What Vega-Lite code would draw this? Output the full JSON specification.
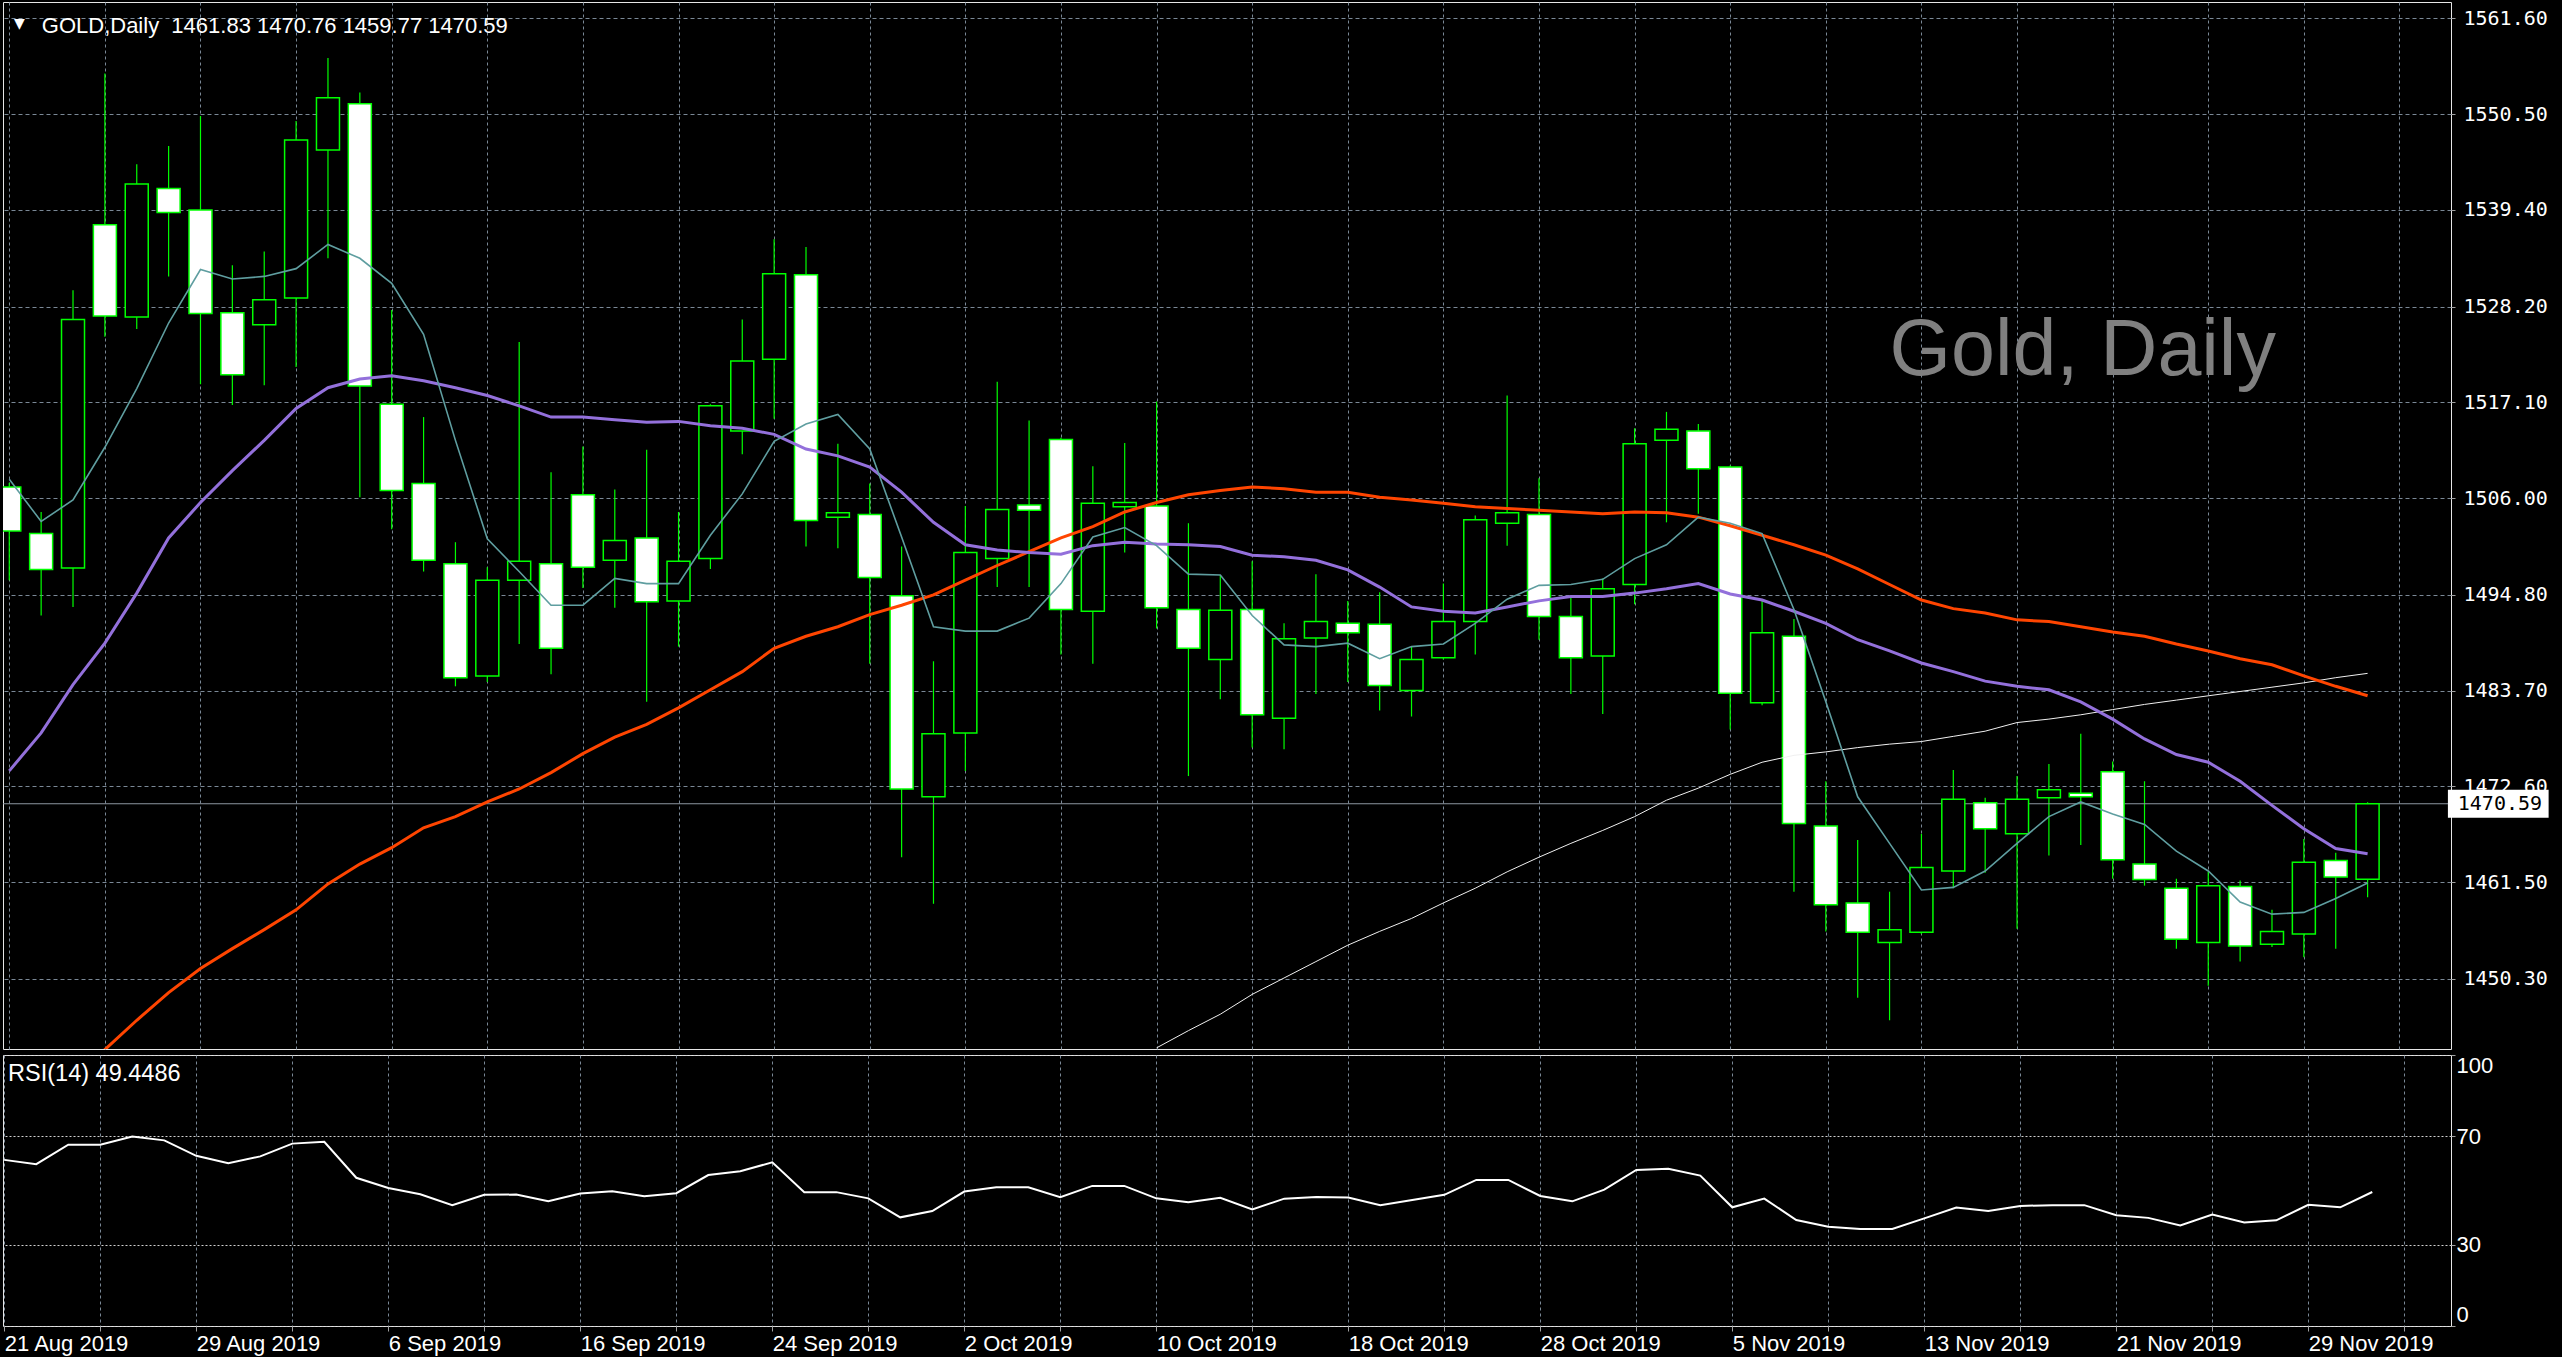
{
"$schema": "https://vega.github.io/schema/vega-lite/v6.json",
"background": "#000000",
"padding": {"left": 2, "top": 1, "right": 12, "bottom": 2},
"spacing": 3,
"datasets": {
"ohlc": [
{"i":0,"date":"2019-08-21","open":1507.3,"high":1507.8,"low":1496.5,"close":1502.2,"maFast":1508.2,"maMid":1474.4,"maSlow":null,"maLong":null,"rsi":61.3},
{"i":1,"date":"2019-08-22","open":1501.9,"high":1504.4,"low":1492.4,"close":1497.75,"maFast":1503.3,"maMid":1478.8,"maSlow":null,"maLong":null,"rsi":59.7},
{"i":2,"date":"2019-08-23","open":1497.9,"high":1530.1,"low":1493.4,"close":1526.7,"maFast":1505.8,"maMid":1484.4,"maSlow":1438.6,"maLong":null,"rsi":66.9},
{"i":3,"date":"2019-08-26","open":1537.7,"high":1555.2,"low":1524.7,"close":1527.1,"maFast":1511.9,"maMid":1489.2,"maSlow":1442.1,"maLong":null,"rsi":66.9},
{"i":4,"date":"2019-08-27","open":1527.0,"high":1544.7,"low":1525.6,"close":1542.4,"maFast":1518.7,"maMid":1495.0,"maSlow":1445.5,"maLong":null,"rsi":69.9},
{"i":5,"date":"2019-08-28","open":1541.9,"high":1546.8,"low":1531.7,"close":1539.1,"maFast":1526.3,"maMid":1501.4,"maSlow":1448.7,"maLong":null,"rsi":68.5},
{"i":6,"date":"2019-08-29","open":1539.4,"high":1550.3,"low":1519.2,"close":1527.4,"maFast":1532.5,"maMid":1505.5,"maSlow":1451.5,"maLong":null,"rsi":62.8},
{"i":7,"date":"2019-08-30","open":1527.5,"high":1533.0,"low":1516.8,"close":1520.3,"maFast":1531.4,"maMid":1509.2,"maSlow":1453.8,"maLong":null,"rsi":60.1},
{"i":8,"date":"2019-09-02","open":1526.1,"high":1534.6,"low":1519.1,"close":1529.0,"maFast":1531.7,"maMid":1512.7,"maSlow":1456.0,"maLong":null,"rsi":62.6},
{"i":9,"date":"2019-09-03","open":1529.2,"high":1549.7,"low":1521.2,"close":1547.5,"maFast":1532.6,"maMid":1516.4,"maSlow":1458.3,"maLong":null,"rsi":67.3},
{"i":10,"date":"2019-09-04","open":1546.35,"high":1557.0,"low":1533.8,"close":1552.4,"maFast":1535.4,"maMid":1518.8,"maSlow":1461.3,"maLong":null,"rsi":68.0},
{"i":11,"date":"2019-09-05","open":1551.7,"high":1553.0,"low":1506.1,"close":1519.0,"maFast":1533.8,"maMid":1519.8,"maSlow":1463.6,"maLong":null,"rsi":54.7},
{"i":12,"date":"2019-09-06","open":1516.9,"high":1527.8,"low":1502.4,"close":1506.9,"maFast":1530.9,"maMid":1520.2,"maSlow":1465.5,"maLong":null,"rsi":50.9},
{"i":13,"date":"2019-09-09","open":1507.7,"high":1515.4,"low":1497.5,"close":1498.8,"maFast":1525.0,"maMid":1519.6,"maSlow":1467.8,"maLong":null,"rsi":48.6},
{"i":14,"date":"2019-09-10","open":1498.4,"high":1500.9,"low":1484.2,"close":1485.2,"maFast":1512.7,"maMid":1518.8,"maSlow":1469.1,"maLong":null,"rsi":44.6},
{"i":15,"date":"2019-09-11","open":1485.4,"high":1498.0,"low":1484.7,"close":1496.5,"maFast":1501.3,"maMid":1517.9,"maSlow":1470.8,"maLong":null,"rsi":48.4},
{"i":16,"date":"2019-09-12","open":1496.5,"high":1524.1,"low":1489.1,"close":1498.7,"maFast":1497.5,"maMid":1516.7,"maSlow":1472.3,"maLong":null,"rsi":48.5},
{"i":17,"date":"2019-09-13","open":1498.4,"high":1509.0,"low":1485.6,"close":1488.6,"maFast":1493.6,"maMid":1515.4,"maSlow":1474.2,"maLong":null,"rsi":46.0},
{"i":18,"date":"2019-09-16","open":1506.4,"high":1512.0,"low":1495.6,"close":1498.0,"maFast":1493.6,"maMid":1515.4,"maSlow":1476.4,"maLong":null,"rsi":48.9},
{"i":19,"date":"2019-09-17","open":1498.8,"high":1507.0,"low":1493.3,"close":1501.1,"maFast":1496.7,"maMid":1515.1,"maSlow":1478.3,"maLong":null,"rsi":49.7},
{"i":20,"date":"2019-09-18","open":1501.4,"high":1511.6,"low":1482.4,"close":1494.0,"maFast":1496.1,"maMid":1514.8,"maSlow":1479.8,"maLong":null,"rsi":47.9},
{"i":21,"date":"2019-09-19","open":1494.1,"high":1504.4,"low":1488.8,"close":1498.7,"maFast":1496.1,"maMid":1514.9,"maSlow":1481.7,"maLong":null,"rsi":49.0},
{"i":22,"date":"2019-09-20","open":1499.0,"high":1516.9,"low":1497.8,"close":1516.7,"maFast":1501.7,"maMid":1514.4,"maSlow":1483.8,"maLong":null,"rsi":55.7},
{"i":23,"date":"2019-09-23","open":1513.8,"high":1526.7,"low":1511.1,"close":1521.9,"maFast":1506.5,"maMid":1514.1,"maSlow":1485.9,"maLong":null,"rsi":57.1},
{"i":24,"date":"2019-09-24","open":1522.1,"high":1536.0,"low":1515.2,"close":1532.0,"maFast":1512.6,"maMid":1513.4,"maSlow":1488.6,"maLong":null,"rsi":60.4},
{"i":25,"date":"2019-09-25","open":1531.9,"high":1535.1,"low":1500.4,"close":1503.4,"maFast":1514.6,"maMid":1511.7,"maSlow":1490.0,"maLong":null,"rsi":49.4},
{"i":26,"date":"2019-09-26","open":1503.8,"high":1512.3,"low":1500.2,"close":1504.3,"maFast":1515.7,"maMid":1510.9,"maSlow":1491.1,"maLong":null,"rsi":49.4},
{"i":27,"date":"2019-09-27","open":1504.1,"high":1507.7,"low":1486.8,"close":1496.8,"maFast":1511.7,"maMid":1509.6,"maSlow":1492.5,"maLong":null,"rsi":47.1},
{"i":28,"date":"2019-09-30","open":1494.7,"high":1500.4,"low":1464.4,"close":1472.3,"maFast":1501.5,"maMid":1506.7,"maSlow":1493.6,"maLong":null,"rsi":40.1},
{"i":29,"date":"2019-10-01","open":1471.4,"high":1487.1,"low":1459.0,"close":1478.7,"maFast":1491.1,"maMid":1503.2,"maSlow":1494.8,"maLong":null,"rsi":42.4},
{"i":30,"date":"2019-10-02","open":1478.8,"high":1505.1,"low":1474.4,"close":1499.7,"maFast":1490.6,"maMid":1500.6,"maSlow":1496.5,"maLong":null,"rsi":49.6},
{"i":31,"date":"2019-10-03","open":1499.0,"high":1519.5,"low":1495.7,"close":1504.7,"maFast":1490.6,"maMid":1500.0,"maSlow":1498.2,"maLong":null,"rsi":51.2},
{"i":32,"date":"2019-10-04","open":1505.2,"high":1515.0,"low":1495.7,"close":1504.6,"maFast":1492.1,"maMid":1499.7,"maSlow":1499.8,"maLong":null,"rsi":51.2},
{"i":33,"date":"2019-10-07","open":1512.8,"high":1513.0,"low":1487.9,"close":1493.1,"maFast":1496.1,"maMid":1499.5,"maSlow":1501.4,"maLong":null,"rsi":47.5},
{"i":34,"date":"2019-10-08","open":1492.9,"high":1509.7,"low":1486.8,"close":1505.4,"maFast":1501.5,"maMid":1500.5,"maSlow":1502.7,"maLong":null,"rsi":51.7},
{"i":35,"date":"2019-10-09","open":1505.0,"high":1512.4,"low":1499.7,"close":1505.5,"maFast":1502.6,"maMid":1500.9,"maSlow":1504.4,"maLong":null,"rsi":51.7},
{"i":36,"date":"2019-10-10","open":1505.1,"high":1517.2,"low":1490.9,"close":1493.3,"maFast":1500.5,"maMid":1500.7,"maSlow":1505.5,"maLong":1442.3,"rsi":47.1},
{"i":37,"date":"2019-10-11","open":1493.1,"high":1503.1,"low":1473.8,"close":1488.6,"maFast":1497.2,"maMid":1500.6,"maSlow":1506.4,"maLong":1444.3,"rsi":45.7},
{"i":38,"date":"2019-10-14","open":1487.3,"high":1497.1,"low":1482.7,"close":1493.0,"maFast":1497.1,"maMid":1500.4,"maSlow":1506.9,"maLong":1446.2,"rsi":47.3},
{"i":39,"date":"2019-10-15","open":1493.1,"high":1498.7,"low":1477.1,"close":1480.9,"maFast":1492.4,"maMid":1499.4,"maSlow":1507.3,"maLong":1448.5,"rsi":43.0},
{"i":40,"date":"2019-10-16","open":1480.5,"high":1491.5,"low":1476.9,"close":1489.7,"maFast":1489.0,"maMid":1499.2,"maSlow":1507.1,"maLong":1450.4,"rsi":47.0},
{"i":41,"date":"2019-10-17","open":1489.8,"high":1497.2,"low":1483.3,"close":1491.7,"maFast":1488.8,"maMid":1498.8,"maSlow":1506.7,"maLong":1452.3,"rsi":47.6},
{"i":42,"date":"2019-10-18","open":1491.5,"high":1494.1,"low":1484.7,"close":1490.4,"maFast":1489.2,"maMid":1497.7,"maSlow":1506.7,"maLong":1454.2,"rsi":47.4},
{"i":43,"date":"2019-10-21","open":1491.4,"high":1495.1,"low":1481.4,"close":1484.3,"maFast":1487.4,"maMid":1495.7,"maSlow":1506.1,"maLong":1455.8,"rsi":44.6},
{"i":44,"date":"2019-10-22","open":1483.7,"high":1488.8,"low":1480.7,"close":1487.3,"maFast":1488.8,"maMid":1493.4,"maSlow":1505.8,"maLong":1457.3,"rsi":46.5},
{"i":45,"date":"2019-10-23","open":1487.5,"high":1496.1,"low":1487.3,"close":1491.7,"maFast":1489.1,"maMid":1492.9,"maSlow":1505.4,"maLong":1459.1,"rsi":48.4},
{"i":46,"date":"2019-10-24","open":1491.7,"high":1504.0,"low":1487.9,"close":1503.5,"maFast":1491.5,"maMid":1492.7,"maSlow":1505.0,"maLong":1460.8,"rsi":53.9},
{"i":47,"date":"2019-10-25","open":1503.1,"high":1517.9,"low":1500.5,"close":1504.3,"maFast":1494.3,"maMid":1493.4,"maSlow":1504.8,"maLong":1462.7,"rsi":53.9},
{"i":48,"date":"2019-10-28","open":1504.1,"high":1508.3,"low":1489.6,"close":1492.3,"maFast":1495.9,"maMid":1494.1,"maSlow":1504.6,"maLong":1464.4,"rsi":48.0},
{"i":49,"date":"2019-10-29","open":1492.3,"high":1494.6,"low":1483.3,"close":1487.5,"maFast":1496.0,"maMid":1494.6,"maSlow":1504.4,"maLong":1466.0,"rsi":46.0},
{"i":50,"date":"2019-10-30","open":1487.7,"high":1496.7,"low":1481.0,"close":1495.5,"maFast":1496.6,"maMid":1494.6,"maSlow":1504.2,"maLong":1467.5,"rsi":50.3},
{"i":51,"date":"2019-10-31","open":1496.0,"high":1514.1,"low":1493.7,"close":1512.3,"maFast":1499.0,"maMid":1495.0,"maSlow":1504.4,"maLong":1469.1,"rsi":57.6},
{"i":52,"date":"2019-11-01","open":1512.7,"high":1516.0,"low":1503.2,"close":1514.0,"maFast":1500.6,"maMid":1495.5,"maSlow":1504.3,"maLong":1471.0,"rsi":58.0},
{"i":53,"date":"2019-11-04","open":1513.8,"high":1514.6,"low":1504.2,"close":1509.4,"maFast":1503.8,"maMid":1496.1,"maSlow":1503.8,"maLong":1472.4,"rsi":55.5},
{"i":54,"date":"2019-11-05","open":1509.6,"high":1509.8,"low":1479.2,"close":1483.4,"maFast":1503.1,"maMid":1494.9,"maSlow":1502.8,"maLong":1474.0,"rsi":43.8},
{"i":55,"date":"2019-11-06","open":1482.3,"high":1494.1,"low":1482.0,"close":1490.4,"maFast":1501.9,"maMid":1494.2,"maSlow":1501.7,"maLong":1475.4,"rsi":47.0},
{"i":56,"date":"2019-11-07","open":1490.0,"high":1492.0,"low":1460.4,"close":1468.3,"maFast":1493.1,"maMid":1492.9,"maSlow":1500.6,"maLong":1476.2,"rsi":39.1},
{"i":57,"date":"2019-11-08","open":1468.0,"high":1473.2,"low":1455.8,"close":1458.9,"maFast":1482.4,"maMid":1491.5,"maSlow":1499.4,"maLong":1476.6,"rsi":36.6},
{"i":58,"date":"2019-11-11","open":1459.1,"high":1466.4,"low":1448.1,"close":1455.7,"maFast":1471.4,"maMid":1489.6,"maSlow":1497.8,"maLong":1477.1,"rsi":35.8},
{"i":59,"date":"2019-11-12","open":1454.5,"high":1460.4,"low":1445.5,"close":1456.0,"maFast":1466.0,"maMid":1488.3,"maSlow":1496.0,"maLong":1477.5,"rsi":35.8},
{"i":60,"date":"2019-11-13","open":1455.7,"high":1467.1,"low":1455.5,"close":1463.2,"maFast":1460.6,"maMid":1486.9,"maSlow":1494.2,"maLong":1477.8,"rsi":39.7},
{"i":61,"date":"2019-11-14","open":1462.8,"high":1474.5,"low":1460.8,"close":1471.1,"maFast":1460.9,"maMid":1485.9,"maSlow":1493.2,"maLong":1478.4,"rsi":43.7},
{"i":62,"date":"2019-11-15","open":1470.7,"high":1471.3,"low":1462.6,"close":1467.7,"maFast":1462.8,"maMid":1484.8,"maSlow":1492.7,"maLong":1479.0,"rsi":42.4},
{"i":63,"date":"2019-11-18","open":1467.1,"high":1473.8,"low":1456.1,"close":1471.1,"maFast":1466.0,"maMid":1484.2,"maSlow":1491.9,"maLong":1480.0,"rsi":44.3},
{"i":64,"date":"2019-11-19","open":1471.3,"high":1475.2,"low":1464.6,"close":1472.2,"maFast":1469.1,"maMid":1483.8,"maSlow":1491.7,"maLong":1480.4,"rsi":44.6},
{"i":65,"date":"2019-11-20","open":1471.8,"high":1478.7,"low":1465.8,"close":1471.4,"maFast":1470.8,"maMid":1482.4,"maSlow":1491.1,"maLong":1480.9,"rsi":44.6},
{"i":66,"date":"2019-11-21","open":1474.3,"high":1475.5,"low":1461.9,"close":1464.1,"maFast":1469.4,"maMid":1480.4,"maSlow":1490.5,"maLong":1481.5,"rsi":40.9},
{"i":67,"date":"2019-11-22","open":1463.6,"high":1473.2,"low":1461.1,"close":1461.8,"maFast":1468.2,"maMid":1478.1,"maSlow":1490.0,"maLong":1482.1,"rsi":39.9},
{"i":68,"date":"2019-11-25","open":1460.8,"high":1461.9,"low":1453.8,"close":1454.9,"maFast":1465.1,"maMid":1476.3,"maSlow":1489.1,"maLong":1482.6,"rsi":37.1},
{"i":69,"date":"2019-11-26","open":1454.5,"high":1462.7,"low":1449.5,"close":1461.1,"maFast":1462.8,"maMid":1475.4,"maSlow":1488.3,"maLong":1483.1,"rsi":41.1},
{"i":70,"date":"2019-11-27","open":1461.0,"high":1461.7,"low":1452.3,"close":1454.1,"maFast":1459.2,"maMid":1473.2,"maSlow":1487.4,"maLong":1483.6,"rsi":38.2},
{"i":71,"date":"2019-11-28","open":1454.3,"high":1458.3,"low":1454.0,"close":1455.8,"maFast":1457.8,"maMid":1470.4,"maSlow":1486.7,"maLong":1484.1,"rsi":39.0},
{"i":72,"date":"2019-11-29","open":1455.5,"high":1466.5,"low":1452.8,"close":1463.8,"maFast":1458.0,"maMid":1467.7,"maSlow":1485.4,"maLong":1484.6,"rsi":44.7},
{"i":73,"date":"2019-12-02","open":1464.0,"high":1464.9,"low":1453.8,"close":1462.1,"maFast":1459.6,"maMid":1465.4,"maSlow":1484.2,"maLong":1485.2,"rsi":43.8},
{"i":74,"date":"2019-12-03","open":1461.83,"high":1470.76,"low":1459.77,"close":1470.59,"maFast":1461.4,"maMid":1464.8,"maSlow":1483.1,"maLong":1485.7,"rsi":49.45}
]
},
"vconcat": [
{
"width": 2448,
"height": 1047,
"data": {"name": "ohlc"},
"layer": [
{
"mark": {"type": "rule", "color": "#00ff00", "strokeWidth": 1.2, "clip": true},
"encoding": {
"x": {"field": "i", "type": "quantitative", "scale": {"domain": [-0.04, 76.46], "nice": false, "zero": false},
"axis": {"values": [0,3,6,9,12,15,18,21,24,27,30,33,36,39,42,45,48,51,54,57,60,63,66,69,72,75], "grid": true, "gridDash": [3,3], "gridColor": "#7a8896", "labels": false, "ticks": false, "domain": false, "title": null}},
"y": {"field": "low", "type": "quantitative", "scale": {"domain": [1442.75, 1562.92], "nice": false, "zero": false},
"axis": {"orient": "right", "values": [1450.3,1461.5,1472.6,1483.7,1494.8,1506.0,1517.1,1528.2,1539.4,1550.5,1561.6], "format": ".2f", "grid": true, "gridDash": [4,3], "gridColor": "#7a8896", "ticks": true, "tickSize": 4, "tickColor": "#a0a0a0", "labelPadding": 8, "labelFont": "DejaVu Sans Mono", "labelFontSize": 20, "labelColor": "#ffffff", "labelOverlap": false, "labelFlush": false, "domain": false, "title": null}},
"y2": {"field": "high"}
}
},
{
"data": {"values": [{"label": "Gold, Daily"}]},
"mark": {"type": "text", "align": "left", "baseline": "alphabetic", "font": "Liberation Sans", "fontSize": 79, "color": "#808080"},
"encoding": {
"x": {"datum": 59.0, "type": "quantitative"},
"y": {"datum": 1520.3, "type": "quantitative"},
"text": {"field": "label"}
}
},
{
"data": {"values": [{"label": "▼"}]},
"mark": {"type": "text", "align": "left", "baseline": "alphabetic", "font": "DejaVu Sans", "fontSize": 14, "color": "#ffffff"},
"encoding": {
"x": {"datum": 0.15, "type": "quantitative"},
"y": {"datum": 1560.5, "type": "quantitative"},
"text": {"field": "label"}
}
},
{
"data": {"values": [{"label": "GOLD,Daily\u00a0 1461.83 1470.76 1459.77 1470.59"}]},
"mark": {"type": "text", "align": "left", "baseline": "alphabetic", "font": "Liberation Sans", "fontSize": 22, "color": "#ffffff"},
"encoding": {
"x": {"datum": 1.02, "type": "quantitative"},
"y": {"datum": 1559.93, "type": "quantitative"},
"text": {"field": "label"}
}
},
{
"transform": [{"filter": "datum.i == 74"}],
"mark": {"type": "rule", "color": "#8c96a0", "strokeWidth": 1},
"encoding": {"y": {"field": "close", "type": "quantitative"}}
},
{
"mark": {"type": "bar", "orient": "vertical", "width": 23, "stroke": "#00ff00", "strokeWidth": 1.5, "clip": true},
"encoding": {
"x": {"field": "i", "type": "quantitative"},
"y": {"field": "open", "type": "quantitative"},
"y2": {"field": "close"},
"fill": {"condition": {"test": "datum.open > datum.close", "value": "#ffffff"}, "value": "#000000"}
}
},
{
"mark": {"type": "line", "color": "#f0f0f0", "strokeWidth": 1, "clip": true},
"encoding": {"x": {"field": "i", "type": "quantitative"}, "y": {"field": "maLong", "type": "quantitative"}}
},
{
"mark": {"type": "line", "color": "#ff4500", "strokeWidth": 3, "clip": true},
"encoding": {"x": {"field": "i", "type": "quantitative"}, "y": {"field": "maSlow", "type": "quantitative"}}
},
{
"mark": {"type": "line", "color": "#9370db", "strokeWidth": 3, "clip": true},
"encoding": {"x": {"field": "i", "type": "quantitative"}, "y": {"field": "maMid", "type": "quantitative"}}
},
{
"mark": {"type": "line", "color": "#5f9ea0", "strokeWidth": 1.6, "clip": true},
"encoding": {"x": {"field": "i", "type": "quantitative"}, "y": {"field": "maFast", "type": "quantitative"}}
},
{
"transform": [{"filter": "datum.i == 74"}],
"mark": {"type": "bar", "orient": "horizontal", "height": 28, "fill": "#ffffff", "clip": false},
"encoding": {
"x": {"datum": 76.52, "type": "quantitative"},
"x2": {"datum": 79.68},
"y": {"field": "close", "type": "quantitative"}
}
},
{
"transform": [{"filter": "datum.i == 74"}],
"mark": {"type": "text", "align": "left", "baseline": "middle", "font": "DejaVu Sans Mono", "fontSize": 20, "color": "#000000", "clip": false},
"encoding": {
"x": {"datum": 76.83, "type": "quantitative"},
"y": {"field": "close", "type": "quantitative"},
"text": {"field": "close", "format": ".2f"}
}
}
]
},
{
"width": 2448,
"height": 271,
"data": {"name": "ohlc"},
"layer": [
{
"mark": {"type": "line", "color": "#ffffff", "strokeWidth": 2, "clip": true},
"encoding": {
"x": {"field": "i", "type": "quantitative", "scale": {"domain": [-0.04, 76.46], "nice": false, "zero": false},
"axis": {"values": [0,3,6,9,12,15,18,21,24,27,30,33,36,39,42,45,48,51,54,57,60,63,66,69,72,75], "grid": true, "gridDash": [3,3], "gridColor": "#7a8896", "labels": true,
"labelExpr": "datum.value % 6 == 0 ? ['21 Aug 2019','29 Aug 2019','6 Sep 2019','16 Sep 2019','24 Sep 2019','2 Oct 2019','10 Oct 2019','18 Oct 2019','28 Oct 2019','5 Nov 2019','13 Nov 2019','21 Nov 2019','29 Nov 2019'][datum.value / 6] : ''",
"labelAlign": "left", "labelFlush": false, "labelOverlap": false, "labelPadding": 2, "labelFont": "Liberation Sans", "labelFontSize": 22, "labelColor": "#ffffff", "ticks": true, "tickSize": 5, "tickColor": "#a0a0a0", "domain": false, "title": null}},
"y": {"field": "rsi", "type": "quantitative", "scale": {"domain": [0, 100], "nice": false, "zero": false},
"axis": {"orient": "right", "values": [0, 30, 70, 100], "grid": true, "gridDash": [2,2], "gridColor": "#d0d0d0", "ticks": true, "tickSize": 4, "tickColor": "#a0a0a0", "labelPadding": 1, "labelFlush": true, "labelOverlap": false, "labelFont": "Liberation Sans", "labelFontSize": 22, "labelColor": "#ffffff", "domain": false, "title": null}}
}
},
{
"data": {"values": [{"label": "RSI(14) 49.4486"}]},
"mark": {"type": "text", "align": "left", "baseline": "alphabetic", "font": "Liberation Sans", "fontSize": 23.5, "color": "#ffffff"},
"encoding": {
"x": {"datum": 0.12, "type": "quantitative"},
"y": {"datum": 90.4, "type": "quantitative"},
"text": {"field": "label"}
}
}
]
}
],
"config": {
"view": {"stroke": "#e6e6e6", "strokeWidth": 1}
}
}
